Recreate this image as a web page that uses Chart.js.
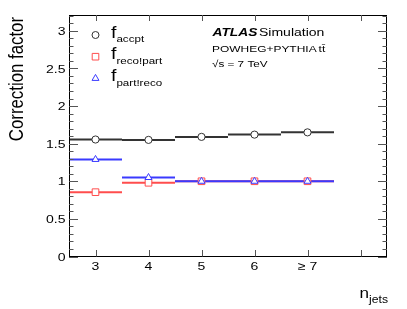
<!DOCTYPE html>
<html>
<head>
<meta charset="utf-8">
<script src="https://cdn.jsdelivr.net/npm/chart.js@4/dist/chart.umd.min.js"></script>
<style>
  html, body { margin: 0; padding: 0; background: #fff; }
  #wrap { width: 407px; height: 309px; }
</style>
</head>
<body>
<div id="wrap"><canvas id="corrChart" width="407" height="309"></canvas></div>
<script>
// n_jets bins and their labels
const nJets = [3, 4, 5, 6, 7];
const nJetsLabels = ['3', '4', '5', '6', '\u2265 7'];

// correction factors
const fAccpt = [1.555, 1.55, 1.59, 1.62, 1.65];
const fRecoNotPart = [0.855, 0.98, 1.0, 1.0, 1.0];
const fPartNotReco = [1.29, 1.05, 1.0, 1.0, 1.0];

// axis ticks
const xTicks = [3, 4, 5, 6, 7, 8];
const yTicks = [0, 0.5, 1, 1.5, 2, 2.5, 3];
const yLabels = ['0', '0.5', '1', '1.5', '2', '2.5', '3'];

const BLACK = '#333333';
const RED = '#ff4d4d';
const BLUE = '#3a3aff';
const FONT = '"Liberation Sans", Arial, sans-serif';
const ASPECT = 1.22; // text in the reference is a bit wider than tall

// horizontal bin segments, broken between bins
function steps(vals) {
    const out = [];
    vals.forEach((v, i) => {
        out.push({ x: nJets[i] - 0.5, y: v });
        out.push({ x: nJets[i] + 0.5, y: v });
        out.push({ x: nJets[i] + 0.5, y: null });
    });
    return out;
}
function centers(vals) {
    return vals.map((v, i) => ({ x: nJets[i], y: v }));
}

function text(ctx, str, x, y, size, opt) {
    opt = opt || {};
    ctx.save();
    ctx.font = (opt.style || '') + ' ' + size + 'px ' + FONT;
    ctx.translate(x, y);
    ctx.scale(ASPECT, 1);
    ctx.textAlign = opt.align || 'left';
    ctx.textBaseline = 'alphabetic';
    ctx.fillStyle = opt.color || '#000';
    ctx.fillText(str, 0, 0);
    const w = ctx.measureText(str).width * ASPECT;
    ctx.restore();
    return w;
}

function marker(ctx, style, x, y, color) {
    ctx.save();
    ctx.strokeStyle = color;
    ctx.fillStyle = '#fff';
    ctx.lineWidth = 1;
    ctx.beginPath();
    if (style === 'circle') {
        ctx.arc(x, y, 3.5, 0, Math.PI * 2);
    } else if (style === 'rect') {
        ctx.rect(x - 3.3, y - 3.3, 6.6, 6.6);
    } else {
        const r = 4;
        ctx.moveTo(x, y - r);
        ctx.lineTo(x + r * 0.866, y + r / 2);
        ctx.lineTo(x - r * 0.866, y + r / 2);
        ctx.closePath();
    }
    ctx.fill();
    ctx.stroke();
    ctx.restore();
}

const decorations = {
    id: 'decorations',
    afterDraw(chart) {
        const ctx = chart.ctx;
        const a = chart.chartArea;
        const xs = chart.scales.x;
        const ys = chart.scales.y;

        ctx.save();
        // frame
        ctx.strokeStyle = '#000';
        ctx.lineWidth = 1;
        ctx.strokeRect(Math.round(a.left) + 0.5, Math.round(a.top) + 0.5,
            Math.round(a.right - a.left) - 1, Math.round(a.bottom - a.top) - 1);

        // y ticks, inside on both sides
        ctx.strokeStyle = '#555';
        ctx.beginPath();
        for (let k = 0; k <= 32; k++) {
            const py = Math.round(ys.getPixelForValue(k / 10)) + 0.5;
            if (py < a.top) continue;
            const len = k % 5 === 0 ? 9 : 4.5;
            ctx.moveTo(a.left, py); ctx.lineTo(a.left + len, py);
            ctx.moveTo(a.right, py); ctx.lineTo(a.right - len, py);
        }
        // x ticks, bottom and top
        xTicks.forEach(t => {
            const px = Math.round(xs.getPixelForValue(t)) + 0.5;
            ctx.moveTo(px, a.bottom); ctx.lineTo(px, a.bottom - 6.5);
            ctx.moveTo(px, a.top); ctx.lineTo(px, a.top + 6);
        });
        ctx.stroke();
        ctx.restore();

        // tick labels
        yTicks.forEach((t, i) => {
            text(ctx, yLabels[i], 65.5, ys.getPixelForValue(t) + 4.2, 11.5, { align: 'right' });
        });
        nJets.forEach((t, i) => {
            text(ctx, nJetsLabels[i], xs.getPixelForValue(t), 270, 11.5, { align: 'center' });
        });

        // axis titles
        ctx.save();
        ctx.font = '20px ' + FONT;
        ctx.fillStyle = '#000';
        ctx.translate(23, 17);
        ctx.rotate(-Math.PI / 2);
        ctx.scale(0.84, 1);
        ctx.textAlign = 'right';
        ctx.fillText('Correction factor', 0, 0);
        ctx.restore();

        const wn = text(ctx, 'n', 359.5, 297.5, 14);
        text(ctx, 'jets', 359.5 + wn, 302.5, 10);

        // legend
        const entries = [
            { sub: 'accpt', style: 'circle', color: BLACK },
            { sub: 'reco!part', style: 'rect', color: RED },
            { sub: 'part!reco', style: 'triangle', color: BLUE }
        ];
        entries.forEach((e, i) => {
            const y0 = 35 + i * 21.7;
            marker(ctx, e.style, 95.5, y0, e.color);
            const wf = text(ctx, 'f', 111, y0 + 2.5, 16);
            text(ctx, e.sub, 111 + wf, y0 + 7.3, 9.5);
        });

        // ATLAS label
        const wa = text(ctx, 'ATLAS', 212.5, 36, 11.3, { style: 'italic bold' });
        text(ctx, 'Simulation', 212.5 + wa + 1.5, 36, 11.5);
        const wp = text(ctx, 'POWHEG+PYTHIA', 212, 51.5, 9.8);
        text(ctx, 'tt\u0304', 212 + wp + 2, 51.5, 9.8);
        text(ctx, '\u221As = 7 TeV', 212, 67.3, 9.6);
    }
};

new Chart(document.getElementById('corrChart').getContext('2d'), {
    type: 'scatter',
    data: {
        datasets: [
            { label: 'accpt line', data: steps(fAccpt), showLine: true, spanGaps: false,
              borderColor: BLACK, borderWidth: 2, pointRadius: 0, order: 6 },
            { label: 'reco!part line', data: steps(fRecoNotPart), showLine: true, spanGaps: false,
              borderColor: RED, borderWidth: 2, pointRadius: 0, order: 5 },
            { label: 'part!reco line', data: steps(fPartNotReco), showLine: true, spanGaps: false,
              borderColor: BLUE, borderWidth: 2, pointRadius: 0, order: 4 },
            { label: 'f_accpt', data: centers(fAccpt), pointStyle: 'circle', pointRadius: 3.6,
              borderColor: BLACK, backgroundColor: '#fff', borderWidth: 1, order: 3 },
            { label: 'f_reco!part', data: centers(fRecoNotPart), pointStyle: 'rect', pointRadius: 4.7,
              borderColor: RED, backgroundColor: '#fff', borderWidth: 1, order: 2 },
            { label: 'f_part!reco', data: centers(fPartNotReco), pointStyle: 'triangle', pointRadius: 4,
              borderColor: BLUE, backgroundColor: '#fff', borderWidth: 1, order: 1 }
        ]
    },
    options: {
        responsive: false,
        animation: false,
        devicePixelRatio: 1,
        layout: { padding: { top: 15, right: 20, left: 0, bottom: 0 } },
        plugins: {
            legend: { display: false },
            tooltip: { enabled: false }
        },
        scales: {
            x: {
                type: 'linear',
                min: 2.5,
                max: 8.5,
                grid: { display: false },
                border: { display: false },
                ticks: { display: false },
                afterFit: s => { s.height = 52.5; }
            },
            y: {
                min: 0,
                max: 3.21,
                grid: { display: false },
                border: { display: false },
                ticks: { display: false },
                afterFit: s => { s.width = 69; }
            }
        }
    },
    plugins: [decorations]
});
</script>
</body>
</html>
